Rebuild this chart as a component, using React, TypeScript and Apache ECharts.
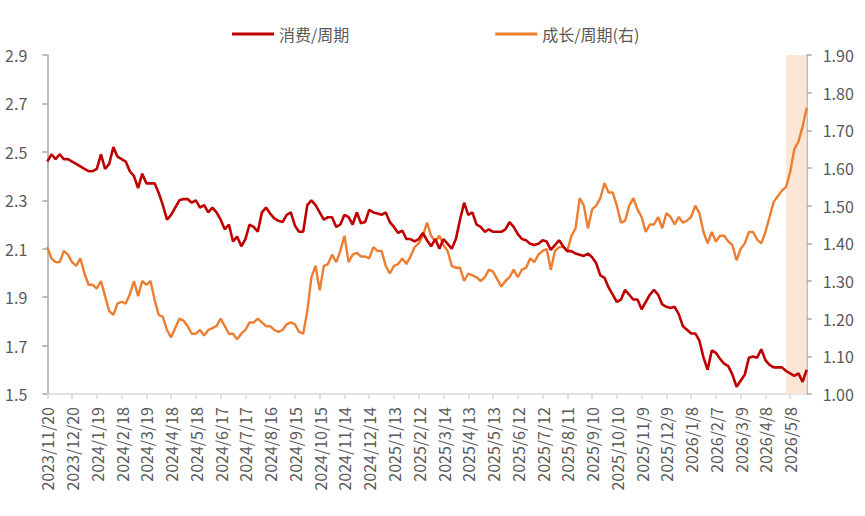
import React, { useEffect, useRef } from "react";
import * as echarts from "echarts";

// x categories: every 5 calendar days starting 2023/11/20 (185 points)
const START = Date.UTC(2023, 10, 20);
const STEP_DAYS = 5;
const COUNT = 185;
const dates: string[] = Array.from({ length: COUNT }, (_, i) => {
  const d = new Date(START + i * STEP_DAYS * 86400000);
  return `${d.getUTCFullYear()}/${d.getUTCMonth() + 1}/${d.getUTCDate()}`;
});

const seriesNames = ["消费/周期", "成长/周期(右)"];

// 消费/周期 (left axis)
const consumption: number[] = [
  2.46, 2.49, 2.47, 2.49, 2.47, 2.47, 2.46, 2.45, 2.44, 2.43,
  2.42, 2.42, 2.43, 2.49, 2.43, 2.45, 2.52, 2.48, 2.47, 2.46,
  2.42, 2.40, 2.35, 2.41, 2.37, 2.37, 2.37, 2.33, 2.28, 2.22,
  2.24, 2.27, 2.30, 2.305, 2.305, 2.29, 2.30, 2.27, 2.28, 2.25,
  2.27, 2.25, 2.22, 2.18, 2.20, 2.13, 2.15, 2.11, 2.14, 2.20,
  2.19, 2.17, 2.25, 2.27, 2.245, 2.225, 2.215, 2.21, 2.24, 2.25,
  2.195, 2.17, 2.17, 2.28, 2.30, 2.28, 2.25, 2.22, 2.23, 2.23,
  2.19, 2.20, 2.24, 2.23, 2.20, 2.25, 2.205, 2.21, 2.26, 2.25,
  2.245, 2.24, 2.25, 2.21, 2.19, 2.165, 2.175, 2.14, 2.14, 2.13,
  2.14, 2.165, 2.135, 2.11, 2.14, 2.10, 2.14, 2.12, 2.10, 2.14,
  2.22, 2.29, 2.24, 2.25, 2.20, 2.19, 2.17, 2.18, 2.17, 2.17,
  2.17, 2.18, 2.21, 2.19, 2.16, 2.14, 2.135, 2.12, 2.115, 2.12,
  2.135, 2.13, 2.095, 2.115, 2.135, 2.11, 2.09, 2.09, 2.08, 2.075,
  2.07, 2.08, 2.065, 2.04, 1.99, 1.98, 1.94, 1.91, 1.88, 1.89,
  1.93, 1.91, 1.89, 1.89, 1.85, 1.88, 1.91, 1.93, 1.91, 1.87,
  1.86, 1.855, 1.86, 1.83, 1.78, 1.765, 1.75, 1.75, 1.72, 1.65,
  1.60, 1.68, 1.67, 1.645, 1.625, 1.615, 1.58, 1.53, 1.555, 1.58,
  1.65, 1.655, 1.65, 1.685, 1.64, 1.62, 1.61, 1.61, 1.61, 1.595,
  1.585, 1.575, 1.585, 1.55, 1.60,
];

// 成长/周期 (right axis)
const growth: number[] = [
  1.39, 1.36, 1.35, 1.35, 1.38, 1.37, 1.35, 1.34, 1.36, 1.32,
  1.29, 1.29, 1.28, 1.30, 1.26, 1.22, 1.21, 1.24, 1.245, 1.24,
  1.265, 1.30, 1.26, 1.30, 1.29, 1.30, 1.25, 1.21, 1.205, 1.17,
  1.15, 1.175, 1.20, 1.195, 1.18, 1.16, 1.16, 1.17, 1.155, 1.17,
  1.175, 1.18, 1.20, 1.18, 1.16, 1.16, 1.145, 1.16, 1.17, 1.19,
  1.19, 1.20, 1.19, 1.18, 1.18, 1.17, 1.165, 1.17, 1.185, 1.19,
  1.185, 1.165, 1.16, 1.22, 1.31, 1.34, 1.275, 1.34, 1.345, 1.37,
  1.35, 1.38, 1.42, 1.35, 1.37, 1.375, 1.365, 1.365, 1.36, 1.39,
  1.38, 1.38, 1.34, 1.32, 1.34, 1.345, 1.36, 1.345, 1.365, 1.39,
  1.40, 1.42, 1.455, 1.42, 1.405, 1.42, 1.395, 1.38, 1.34, 1.335,
  1.335, 1.30, 1.32, 1.315, 1.31, 1.30, 1.31, 1.33, 1.325, 1.305,
  1.285, 1.30, 1.31, 1.33, 1.31, 1.33, 1.335, 1.36, 1.35, 1.37,
  1.38, 1.385, 1.33, 1.38, 1.39, 1.39, 1.38, 1.42, 1.44, 1.52,
  1.50, 1.44, 1.49, 1.50, 1.52, 1.56, 1.535, 1.535, 1.50, 1.455,
  1.46, 1.50, 1.52, 1.49, 1.47, 1.43, 1.45, 1.45, 1.47, 1.44,
  1.48, 1.47, 1.45, 1.47, 1.455, 1.46, 1.47, 1.50, 1.48, 1.43,
  1.40, 1.43, 1.405, 1.42, 1.42, 1.405, 1.395, 1.355, 1.385, 1.40,
  1.43, 1.43, 1.41, 1.40, 1.43, 1.47, 1.51, 1.525, 1.54, 1.55,
  1.59, 1.65, 1.67, 1.71, 1.76,
];

const shadeStart = "2026/5/3";

const FONT = "'Noto Sans CJK SC', 'Noto Sans', sans-serif";
const TEXT_COLOR = "#595959";

export default function App() {
  const ref = useRef<HTMLDivElement>(null);

  useEffect(() => {
    document.body.style.margin = "0";
    if (!ref.current) return;
    const chart = echarts.init(ref.current, undefined, { renderer: "svg" });
    chart.setOption({
      animation: false,
      textStyle: { fontFamily: FONT },
      legend: {
        left: 227,
        top: 21,
        itemGap: 146,
        itemWidth: 42,
        itemHeight: 3,
        icon: "rect",
        textStyle: { fontSize: 16, color: TEXT_COLOR, fontFamily: FONT },
        data: seriesNames,
      },
      grid: { left: 47.3, right: 58.3, top: 55, bottom: 122, containLabel: false },
      xAxis: {
        type: "category",
        data: dates,
        boundaryGap: false,
        axisLine: { lineStyle: { color: "#D9D9D9", width: 1.5 } },
        axisTick: { interval: 5, length: 5, lineStyle: { color: "#D9D9D9", width: 1.5 } },
        axisLabel: {
          interval: 5,
          rotate: 90,
          margin: 13,
          fontSize: 16,
          color: TEXT_COLOR,
          fontFamily: FONT,
        },
        splitLine: { show: false },
      },
      yAxis: [
        {
          type: "value",
          min: 1.5,
          max: 2.9,
          interval: 0.2,
          axisLine: { show: true, lineStyle: { color: "#A6A6A6", width: 1.5 } },
          axisTick: { show: true, length: 5, lineStyle: { color: "#A6A6A6", width: 1.5 } },
          axisLabel: {
            margin: 20,
            fontSize: 16,
            color: TEXT_COLOR,
            fontFamily: FONT,
            formatter: (v: number) => v.toFixed(1),
          },
          splitLine: { show: false },
        },
        {
          type: "value",
          min: 1.0,
          max: 1.9,
          interval: 0.1,
          axisLine: { show: true, lineStyle: { color: "#A6A6A6", width: 1.5 } },
          axisTick: { show: true, length: 5, lineStyle: { color: "#A6A6A6", width: 1.5 } },
          axisLabel: {
            margin: 16,
            fontSize: 16,
            color: TEXT_COLOR,
            fontFamily: FONT,
            formatter: (v: number) => v.toFixed(2),
          },
          splitLine: { show: false },
        },
      ],
      series: [
        {
          name: seriesNames[0],
          type: "line",
          yAxisIndex: 0,
          data: consumption,
          showSymbol: false,
          symbol: "none",
          z: 3,
          lineStyle: { color: "#C00000", width: 2.6 },
          itemStyle: { color: "#C00000" },
          markArea: {
            silent: true,
            itemStyle: { color: "#FBE5D6" },
            data: [[{ xAxis: shadeStart }, { xAxis: dates[dates.length - 1] }]],
          },
        },
        {
          name: seriesNames[1],
          type: "line",
          yAxisIndex: 1,
          data: growth,
          showSymbol: false,
          symbol: "none",
          z: 2,
          lineStyle: { color: "#ED7D31", width: 2.4 },
          itemStyle: { color: "#ED7D31" },
        },
      ],
    });
    return () => chart.dispose();
  }, []);

  return <div ref={ref} style={{ width: 865, height: 516 }} />;
}
